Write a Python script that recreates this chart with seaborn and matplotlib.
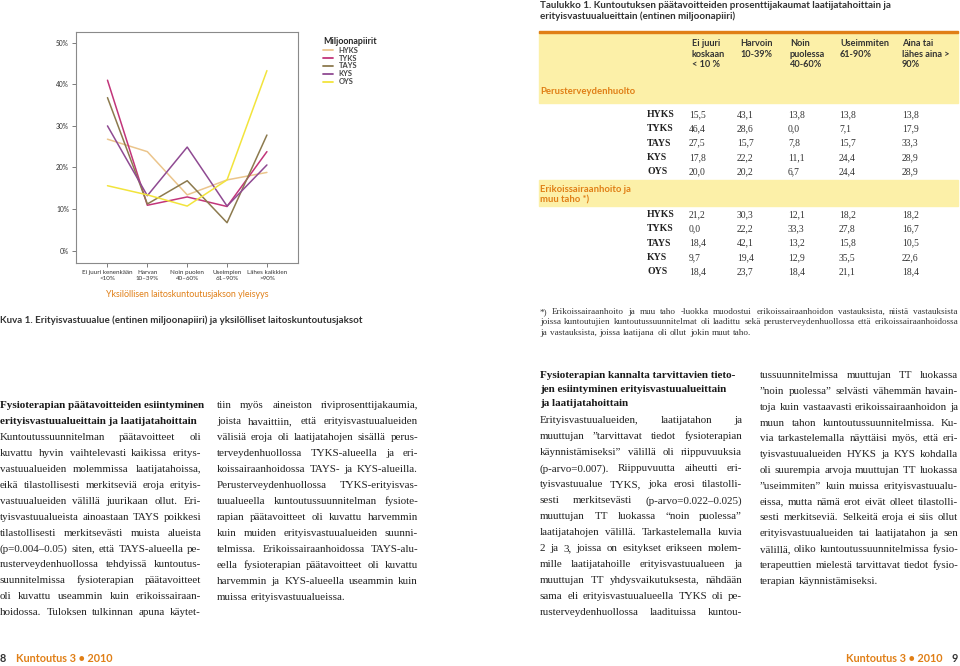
import pandas as pd
import matplotlib
matplotlib.use("Agg")
import matplotlib.pyplot as plt
import seaborn as sns
from matplotlib.patches import Rectangle
from matplotlib.lines import Line2D

W, H = 960, 666
ORANGE = "#E07F16"
YELLOW = "#FCF0A8"
DARK = "#333333"

# chart data (percent)
categories = ["Ei juuri kenenkään\n<10%", "Harvan\n10–39%", "Noin puolen\n40–60%",
              "Useimpien\n61–90%", "Lähes kaikkien\n>90%"]
regions = ["HYKS", "TYKS", "TAYS", "KYS", "OYS"]
hyks = [26.8, 23.8, 13.4, 17.0, 18.8]
tyks = [41.0, 10.9, 12.9, 10.6, 23.8]
tays = [36.8, 11.2, 16.8, 6.7, 27.8]
kys = [30.0, 13.2, 24.9, 10.7, 20.6]
oys = [15.6, 13.4, 10.7, 17.0, 43.3]
region_colors = ["#EBC58C", "#C2357A", "#8C7A4E", "#8F4A92", "#F2E43C"]

# table data
table_cols = ["Ei juuri\nkoskaan\n< 10 %", "Harvoin\n10-39%", "Noin\npuolessa\n40-60%",
              "Useimmiten\n61-90%", "Aina tai\nlähes aina >\n90%"]
perus_vals = [[15.5, 43.1, 13.8, 13.8, 13.8],
              [46.4, 28.6, 0.0, 7.1, 17.9],
              [27.5, 15.7, 7.8, 15.7, 33.3],
              [17.8, 22.2, 11.1, 24.4, 28.9],
              [20.0, 20.2, 6.7, 24.4, 28.9]]
erik_vals = [[21.2, 30.3, 12.1, 18.2, 18.2],
             [0.0, 22.2, 33.3, 27.8, 16.7],
             [18.4, 42.1, 13.2, 15.8, 10.5],
             [9.7, 19.4, 12.9, 35.5, 22.6],
             [18.4, 23.7, 18.4, 21.1, 18.4]]

col1_head = ["Fysioterapian päätavoitteiden esiintyminen",
             "erityisvastuualueittain ja laatijatahoittain"]
col1 = ["Kuntoutussuunnitelman päätavoitteet oli",
        "kuvattu hyvin vaihtelevasti kaikissa eritys-",
        "vastuualueiden molemmissa laatijatahoissa,",
        "eikä tilastollisesti merkitseviä eroja erityis-",
        "vastuualueiden välillä juurikaan ollut. Eri-",
        "tyisvastuualueista ainoastaan TAYS poikkesi",
        "tilastollisesti merkitsevästi muista alueista",
        "(p=0.004–0.05) siten, että TAYS-alueella pe-",
        "rusterveydenhuollossa tehdyissä kuntoutus-",
        "suunnitelmissa fysioterapian päätavoitteet",
        "oli kuvattu useammin kuin erikoissairaan-",
        "hoidossa. Tuloksen tulkinnan apuna käytet-"]
col2 = ["tiin myös aineiston riviprosenttijakaumia,",
        "joista havaittiin, että erityisvastuualueiden",
        "välisiä eroja oli laatijatahojen sisällä perus-",
        "terveydenhuollossa TYKS-alueella ja eri-",
        "koissairaanhoidossa TAYS- ja KYS-alueilla.",
        "Perusterveydenhuollossa TYKS-erityisvas-",
        "tuualueella kuntoutussuunnitelman fysiote-",
        "rapian päätavoitteet oli kuvattu harvemmin",
        "kuin muiden erityisvastuualueiden suunni-",
        "telmissa. Erikoissairaanhoidossa TAYS-alu-",
        "eella fysioterapian päätavoitteet oli kuvattu",
        "harvemmin ja KYS-alueella useammin kuin",
        "muissa erityisvastuualueissa."]
col3_head = ["Fysioterapian kannalta tarvittavien tieto-",
             "jen esiintyminen erityisvastuualueittain",
             "ja laatijatahoittain"]
col3 = ["Erityisvastuualueiden, laatijatahon ja",
        "muuttujan ”tarvittavat tiedot fysioterapian",
        "käynnistämiseksi” välillä oli riippuvuuksia",
        "(p-arvo=0.007). Riippuvuutta aiheutti eri-",
        "tyisvastuualue TYKS, joka erosi tilastolli-",
        "sesti merkitsevästi (p-arvo=0.022–0.025)",
        "muuttujan TT luokassa “noin puolessa”",
        "laatijatahojen välillä. Tarkastelemalla kuvia",
        "2 ja 3, joissa on esitykset erikseen molem-",
        "mille laatijatahoille erityisvastuualueen ja",
        "muuttujan TT yhdysvaikutuksesta, nähdään",
        "sama eli erityisvastuualueella TYKS oli pe-",
        "rusterveydenhuollossa laadituissa kuntou-"]
col4 = ["tussuunnitelmissa muuttujan TT luokassa",
        "”noin puolessa” selvästi vähemmän havain-",
        "toja kuin vastaavasti erikoissairaanhoidon ja",
        "muun tahon kuntoutussuunnitelmissa. Ku-",
        "via tarkastelemalla näyttäisi myös, että eri-",
        "tyisvastuualueiden HYKS ja KYS kohdalla",
        "oli suurempia arvoja muuttujan TT luokassa",
        "”useimmiten” kuin muissa erityisvastuualu-",
        "eissa, mutta nämä erot eivät olleet tilastolli-",
        "sesti merkitseviä. Selkeitä eroja ei siis ollut",
        "erityisvastuualueiden tai laatijatahon ja sen",
        "välillä, oliko kuntoutussuunnitelmissa fysio-",
        "terapeuttien mielestä tarvittavat tiedot fysio-",
        "terapian käynnistämiseksi."]
footnote = ["*) Erikoissairaanhoito ja muu taho -luokka muodostui erikoissairaanhoidon vastauksista, niistä vastauksista",
            "joissa kuntoutujien kuntoutussuunnitelmat oli laadittu sekä perusterveydenhuollossa että erikoissairaanhoidossa",
            "ja vastauksista, joissa laatijana oli ollut jokin muut taho."]

sns.set_style("white")
plt.rcParams["font.family"] = ["Lato", "DejaVu Sans"]

fig = plt.figure(figsize=(9.6, 6.66), dpi=100)
renderer = fig.canvas.get_renderer()


def fx(x):
    return x / W


def fy(y):
    return 1 - y / H


def put(x, y, s, **kw):
    kw.setdefault("va", "center")
    return fig.text(fx(x), fy(y), s, **kw)


def justify(x0, x1, y, line, last=False, min_gap=2.0, **kw):
    # y is the text's mid line; words sit on a shared baseline
    base = y + 0.3 * kw.get("fontsize", 8) * 100 / 72
    words = line.split(" ")
    ts = [put(0, base, w, va="baseline", **kw) for w in words]
    widths = [t.get_window_extent(renderer).width for t in ts]
    n = len(words)
    avail = x1 - x0
    if sum(widths) + (n - 1) * min_gap > avail:
        scale = (avail - (n - 1) * min_gap) / sum(widths)
        for t in ts:
            t.set_fontsize(t.get_fontsize() * scale)
        widths = [t.get_window_extent(renderer).width for t in ts]
    if last or n == 1:
        gap = min(2.8, (avail - sum(widths)) / max(n - 1, 1))
    else:
        gap = (avail - sum(widths)) / (n - 1)
    x = x0
    for t, w in zip(ts, widths):
        t.set_position((fx(x), fy(base)))
        x += w + gap


# ---- line chart ----
df = pd.DataFrame({
    "cat": list(range(5)) * 5,
    "value": hyks + tyks + tays + kys + oys,
    "region": [r for r in regions for _ in range(5)],
})
ax = fig.add_axes([fx(76), fy(263), (298 - 76) / W, (263 - 32) / H])
sns.lineplot(data=df, x="cat", y="value", hue="region", hue_order=regions,
             palette=region_colors, linewidth=1.1, ax=ax, legend=False)
ax.set_xlim(-0.79, 4.78)
ax.set_ylim(-3, 52.6)
ax.set_yticks(range(0, 51, 10))
ax.set_yticklabels([f"{v}%" for v in range(0, 51, 10)], fontsize=4.8, color=DARK)
ax.set_xticks(range(5))
ax.set_xticklabels(categories, fontsize=4.5, color=DARK, linespacing=1.35)
ax.tick_params(axis="y", length=3, width=0.6, color="#666666", pad=2, left=True)
ax.tick_params(axis="x", length=3, width=0.6, color="#666666", pad=2, bottom=True)
ax.set_xlabel("Yksilöllisen laitoskuntoutusjakson yleisyys", color=ORANGE,
              fontsize=6.4, labelpad=6)
ax.set_ylabel("")
for sp in ax.spines.values():
    sp.set_color("#8a8a8a")
    sp.set_linewidth(0.8)

handles = [Line2D([], [], color=c, lw=1.3) for c in region_colors]
leg = ax.legend(handles, regions, title="Miljoonapiirit", loc="upper left",
                bbox_to_anchor=(fx(316), fy(30)), bbox_transform=fig.transFigure,
                frameon=False, fontsize=5.4, title_fontsize=6.4, handlelength=1.3,
                handletextpad=0.8, labelspacing=0.12, alignment="left")
leg.get_title().set_fontweight("bold")
for t in leg.get_texts():
    t.set_fontweight("bold")
    t.set_color("#444444")

put(0, 320, "Kuva 1. Erityisvastuualue (entinen miljoonapiiri) ja yksilölliset laitoskuntoutusjaksot",
    fontsize=7.0, fontweight="bold", color=DARK)

# ---- table ----
put(540, 5, "Taulukko 1. Kuntoutuksen päätavoitteiden prosenttijakaumat laatijatahoittain ja",
    fontsize=7.1, fontweight="bold", color=DARK)
put(540, 16, "erityisvastuualueittain (entinen miljoonapiiri)",
    fontsize=7.1, fontweight="bold", color=DARK)
fig.patches.append(Rectangle((fx(539), fy(103)), (958 - 539) / W, 71 / H,
                             transform=fig.transFigure, color=YELLOW, zorder=0))
fig.patches.append(Rectangle((fx(539), fy(33)), (958 - 539) / W, 2 / H,
                             transform=fig.transFigure, color=ORANGE, zorder=1))
fig.patches.append(Rectangle((fx(539), fy(206)), (958 - 539) / W, 26 / H,
                             transform=fig.transFigure, color=YELLOW, zorder=0))
head_x = [692, 740, 790, 840, 902]
val_x = [689, 737, 788, 839, 902]
for x, s in zip(head_x, table_cols):
    put(x, 39, s, va="top", fontsize=6.6, fontweight="bold", color=DARK, linespacing=1.22)
put(540, 91, "Perusterveydenhuolto", fontsize=6.8, fontweight="bold", color=ORANGE)
put(540, 189, "Erikoissairaanhoito ja", fontsize=6.8, fontweight="bold", color=ORANGE)
put(540, 200, "muu taho *)", fontsize=6.8, fontweight="bold", color=ORANGE)
serif = ["Liberation Serif", "DejaVu Serif"]
for y0, vals in [(114, perus_vals), (214, erik_vals)]:
    for i, (reg, row) in enumerate(zip(regions, vals)):
        y = y0 + i * 14.3 + 3
        put(647, y, reg, va="baseline", fontsize=7.0, fontweight="bold",
            color="#222222", family=serif)
        for x, v in zip(val_x, row):
            put(x, y, f"{v:.1f}".replace(".", ","), va="baseline", fontsize=6.9,
                color="#333333", family=serif)

for i, line in enumerate(footnote):
    justify(540, 958, 311 + i * 10.5, line, last=(i == len(footnote) - 1), min_gap=1.8,
            fontsize=6.6, color="#333333", family=serif)

# ---- body text ----
body_kw = dict(fontsize=7.9, color="#222222", family=serif)
head_kw = dict(fontsize=8.0, color="#1a1a1a", family=serif, fontweight="bold")
for i, s in enumerate(col1_head):
    put(0, 406 + i * 15.5, s, **head_kw)
for i, s in enumerate(col1):
    justify(0, 201, 437 + i * 15.9, s, **body_kw)
for i, s in enumerate(col2):
    justify(217, 418, 405 + i * 15.98, s, last=(i == len(col2) - 1), **body_kw)
for i, s in enumerate(col3_head):
    put(540, 375 + i * 14.5, s, **head_kw)
for i, s in enumerate(col3):
    justify(540, 742, 420 + i * 16.0, s, **body_kw)
for i, s in enumerate(col4):
    justify(760, 958, 375 + i * 15.8, s, last=(i == len(col4) - 1), **body_kw)

# ---- footer ----
put(0, 659, "8", fontsize=7.8, fontweight="bold", color=DARK)
put(16, 659, "Kuntoutus 3 • 2010", fontsize=7.8, fontweight="bold", color=ORANGE)
put(942, 659, "Kuntoutus 3 • 2010", fontsize=7.8, fontweight="bold", color=ORANGE, ha="right")
put(958, 659, "9", fontsize=7.8, fontweight="bold", color=DARK, ha="right")

fig.savefig("out.png", dpi=100)
